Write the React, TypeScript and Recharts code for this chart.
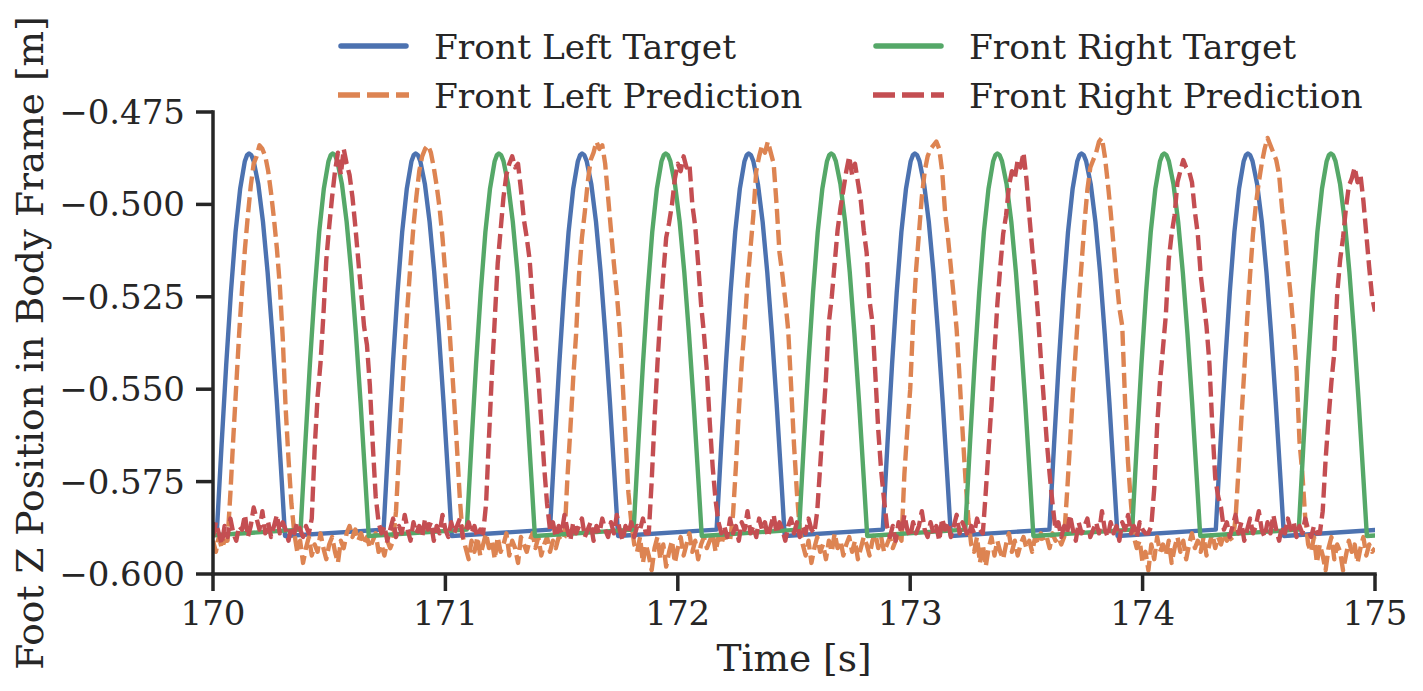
import React from 'react'
import { LineChart, Line, XAxis, YAxis } from 'recharts'

const WIDTH = 1423
const HEIGHT = 691
const FONT = '"DejaVu Serif", serif'
const INK = '#262626'

const xTicks = [170, 171, 172, 173, 174, 175]
const yTicks = [-0.6, -0.575, -0.55, -0.525, -0.5, -0.475]

// target trajectories: [time s, z m], one swing per line
const flTarget: [number, number][] = [
  [170.0, -0.5881],
  [170.017, -0.588], [170.037, -0.565], [170.057, -0.5432], [170.077, -0.5238], [170.097, -0.5075], [170.117, -0.4957], [170.137, -0.4883], [170.147, -0.4866], [170.155, -0.4862], [170.165, -0.4867], [170.175, -0.4883], [170.195, -0.4946], [170.215, -0.5047], [170.235, -0.5184], [170.255, -0.535], [170.275, -0.5536], [170.295, -0.574], [170.31, -0.5897],
  [170.734, -0.588], [170.754, -0.565], [170.774, -0.5432], [170.794, -0.5238], [170.814, -0.5075], [170.834, -0.4957], [170.854, -0.4883], [170.864, -0.4866], [170.872, -0.4862], [170.882, -0.4867], [170.892, -0.4883], [170.912, -0.4946], [170.932, -0.5047], [170.952, -0.5184], [170.972, -0.535], [170.992, -0.5536], [171.012, -0.574], [171.027, -0.5897],
  [171.45, -0.588], [171.47, -0.565], [171.49, -0.5432], [171.51, -0.5238], [171.53, -0.5075], [171.55, -0.4957], [171.57, -0.4883], [171.58, -0.4866], [171.588, -0.4862], [171.598, -0.4867], [171.608, -0.4883], [171.628, -0.4946], [171.648, -0.5047], [171.668, -0.5184], [171.688, -0.535], [171.708, -0.5536], [171.728, -0.574], [171.743, -0.5897],
  [172.167, -0.588], [172.187, -0.565], [172.207, -0.5432], [172.227, -0.5238], [172.247, -0.5075], [172.267, -0.4957], [172.287, -0.4883], [172.297, -0.4866], [172.305, -0.4862], [172.315, -0.4867], [172.325, -0.4883], [172.345, -0.4946], [172.365, -0.5047], [172.385, -0.5184], [172.405, -0.535], [172.425, -0.5536], [172.445, -0.574], [172.46, -0.5897],
  [172.882, -0.588], [172.902, -0.565], [172.922, -0.5432], [172.942, -0.5238], [172.962, -0.5075], [172.982, -0.4957], [173.002, -0.4883], [173.012, -0.4866], [173.02, -0.4862], [173.03, -0.4867], [173.04, -0.4883], [173.06, -0.4946], [173.08, -0.5047], [173.1, -0.5184], [173.12, -0.535], [173.14, -0.5536], [173.16, -0.574], [173.175, -0.5897],
  [173.599, -0.588], [173.619, -0.565], [173.639, -0.5432], [173.659, -0.5238], [173.679, -0.5075], [173.699, -0.4957], [173.719, -0.4883], [173.729, -0.4866], [173.737, -0.4862], [173.747, -0.4867], [173.757, -0.4883], [173.777, -0.4946], [173.797, -0.5047], [173.817, -0.5184], [173.837, -0.535], [173.857, -0.5536], [173.877, -0.574], [173.892, -0.5897],
  [174.315, -0.588], [174.335, -0.565], [174.355, -0.5432], [174.375, -0.5238], [174.395, -0.5075], [174.415, -0.4957], [174.435, -0.4883], [174.445, -0.4866], [174.453, -0.4862], [174.463, -0.4867], [174.473, -0.4883], [174.493, -0.4946], [174.513, -0.5047], [174.533, -0.5184], [174.553, -0.535], [174.573, -0.5536], [174.593, -0.574], [174.608, -0.5897],
  [175.0, -0.5881],
]

const frTarget: [number, number][] = [
  [170.0, -0.5895],
  [170.377, -0.588], [170.397, -0.565], [170.417, -0.5432], [170.437, -0.5238], [170.457, -0.5075], [170.477, -0.4957], [170.497, -0.4883], [170.507, -0.4866], [170.515, -0.4862], [170.525, -0.4867], [170.535, -0.4883], [170.555, -0.4946], [170.575, -0.5047], [170.595, -0.5184], [170.615, -0.535], [170.635, -0.5536], [170.655, -0.574], [170.67, -0.5897],
  [171.092, -0.588], [171.112, -0.565], [171.132, -0.5432], [171.152, -0.5238], [171.172, -0.5075], [171.192, -0.4957], [171.212, -0.4883], [171.222, -0.4866], [171.23, -0.4862], [171.24, -0.4867], [171.25, -0.4883], [171.27, -0.4946], [171.29, -0.5047], [171.31, -0.5184], [171.33, -0.535], [171.35, -0.5536], [171.37, -0.574], [171.385, -0.5897],
  [171.81, -0.588], [171.83, -0.565], [171.85, -0.5432], [171.87, -0.5238], [171.89, -0.5075], [171.91, -0.4957], [171.93, -0.4883], [171.94, -0.4866], [171.948, -0.4862], [171.958, -0.4867], [171.968, -0.4883], [171.988, -0.4946], [172.008, -0.5047], [172.028, -0.5184], [172.048, -0.535], [172.068, -0.5536], [172.088, -0.574], [172.103, -0.5897],
  [172.522, -0.588], [172.542, -0.565], [172.562, -0.5432], [172.582, -0.5238], [172.602, -0.5075], [172.622, -0.4957], [172.642, -0.4883], [172.652, -0.4866], [172.66, -0.4862], [172.67, -0.4867], [172.68, -0.4883], [172.7, -0.4946], [172.72, -0.5047], [172.74, -0.5184], [172.76, -0.535], [172.78, -0.5536], [172.8, -0.574], [172.815, -0.5897],
  [173.237, -0.588], [173.257, -0.565], [173.277, -0.5432], [173.297, -0.5238], [173.317, -0.5075], [173.337, -0.4957], [173.357, -0.4883], [173.367, -0.4866], [173.375, -0.4862], [173.385, -0.4867], [173.395, -0.4883], [173.415, -0.4946], [173.435, -0.5047], [173.455, -0.5184], [173.475, -0.535], [173.495, -0.5536], [173.515, -0.574], [173.53, -0.5897],
  [173.955, -0.588], [173.975, -0.565], [173.995, -0.5432], [174.015, -0.5238], [174.035, -0.5075], [174.055, -0.4957], [174.075, -0.4883], [174.085, -0.4866], [174.093, -0.4862], [174.103, -0.4867], [174.113, -0.4883], [174.133, -0.4946], [174.153, -0.5047], [174.173, -0.5184], [174.193, -0.535], [174.213, -0.5536], [174.233, -0.574], [174.248, -0.5897],
  [174.672, -0.588], [174.692, -0.565], [174.712, -0.5432], [174.732, -0.5238], [174.752, -0.5075], [174.772, -0.4957], [174.792, -0.4883], [174.802, -0.4866], [174.81, -0.4862], [174.82, -0.4867], [174.83, -0.4883], [174.85, -0.4946], [174.87, -0.5047], [174.89, -0.5184], [174.91, -0.535], [174.93, -0.5536], [174.95, -0.574], [174.965, -0.5897],
  [175.0, -0.5896],
]

// network predictions in mm, sampled every 12.5 ms from 170 s
const PRED_T0 = 170
const PRED_DT = 0.0125

const flPredMm = [
  -591, -594, -590, -593, -591,
  -591, -578, -563, -549, -535, -523, -512, -503, -495, -489, -487, -484, -485, -487, -491, -497, -504, -512, -522, -536, -555, -569, -581, -589,
  -594, -591, -597, -593, -590, -595, -592, -594, -589, -593, -596, -592, -590, -594, -597, -591, -593, -589, -587, -590, -588, -591, -589, -592, -590, -593, -591, -589, -594, -592, -595, -591, -593,
  -591, -583, -568, -554, -540, -527, -516, -506, -498, -491, -487, -485, -484, -486, -490, -495, -501, -509, -519, -529, -541, -553, -566, -580, -590,
  -593, -596, -591, -594, -590, -595, -592, -589, -593, -591, -596, -590, -594, -592, -589, -595, -591, -593, -597, -590, -592, -594, -591, -589, -593, -590, -595, -592, -590, -594, -591, -593, -590,
  -591, -590, -574, -561, -547, -535, -519, -509, -502, -494, -488, -486, -483, -485, -484, -489, -498, -507, -516, -524, -534, -548, -563, -578, -586, -592,
  -594, -590, -597, -592, -595, -599, -593, -590, -596, -592, -598, -594, -591, -597, -593, -590, -595, -592, -589, -594, -591, -596, -592, -590, -593, -591, -589, -594, -590, -592, -589, -591,
  -591, -584, -571, -556, -543, -533, -521, -512, -503, -491, -487, -484, -486, -483, -486, -489, -500, -513, -519, -526, -534, -549, -565, -578, -588, -592,
  -595, -591, -597, -593, -590, -594, -592, -596, -591, -594, -589, -593, -591, -595, -592, -590, -594, -591, -596, -593, -590, -592, -595, -591, -589, -593, -590, -594, -592, -590, -593, -591, -589,
  -591, -573, -561, -550, -532, -518, -508, -498, -491, -487, -485, -484, -483, -485, -491, -502, -509, -517, -525, -534, -547, -561, -574, -585, -592,
  -594, -590, -597, -592, -598, -593, -590, -595, -591, -594, -596, -592, -589, -594, -591, -595, -592, -590, -593, -591, -594, -590, -592, -589, -591, -590, -593, -589, -591, -590, -592,
  -590, -578, -565, -551, -539, -527, -516, -505, -496, -490, -488, -486, -483, -482, -487, -494, -502, -511, -520, -528, -533, -554, -570, -581, -590, -593,
  -591, -597, -594, -599, -592, -596, -590, -594, -592, -595, -591, -597, -593, -590, -594, -591, -596, -592, -589, -593, -591, -594, -590, -595, -592, -589, -593, -590, -592, -589, -591, -590,
  -591, -585, -572, -558, -545, -531, -519, -508, -500, -494, -489, -485, -482, -484, -486, -488, -492, -501, -508, -517, -525, -534, -545, -564, -573, -585, -592,
  -594, -590, -597, -592, -595, -599, -593, -590, -596, -592, -594, -599, -595, -591, -594, -592, -597, -593, -590, -595, -592, -594, -593,
]

const frPredMm = [
  -590, -586, -589, -592, -587, -590, -585, -589, -591, -587, -588, -584, -590, -587, -582, -585, -588, -583, -589, -586, -590, -587, -584, -589, -586, -588, -591, -587, -589, -586, -588, -590, -587,
  -589, -585, -566, -552, -543, -530, -515, -506, -498, -491, -486, -492, -485, -489, -492, -498, -506, -515, -524, -533, -538, -549, -565, -579, -586, -589,
  -587, -591, -588, -585, -590, -587, -589, -584, -588, -591, -586, -589, -587, -590, -585, -588, -586, -591, -587, -589, -584, -588, -590, -586, -589, -587, -585, -590, -588, -586, -589, -587, -590, -588,
  -589, -581, -563, -546, -531, -516, -507, -498, -492, -489, -487, -490, -489, -496, -504, -509, -515, -526, -537, -547, -559, -571, -581, -588,
  -586, -590, -587, -589, -584, -588, -591, -586, -589, -587, -585, -590, -588, -586, -591, -587, -589, -585, -588, -590, -586, -589, -584, -588, -591, -587, -589, -586, -590, -587, -588, -585, -589,
  -589, -575, -558, -543, -530, -519, -509, -505, -500, -493, -489, -491, -487, -490, -489, -500, -506, -516, -527, -535, -545, -559, -571, -580, -586, -589,
  -587, -590, -585, -589, -587, -591, -586, -588, -583, -589, -587, -590, -585, -588, -586, -590, -587, -584, -589, -586, -588, -591, -587, -585, -589, -586, -590, -587, -589, -585, -588,
  -589, -583, -571, -559, -547, -532, -525, -516, -507, -501, -496, -491, -487, -492, -489, -494, -499, -507, -513, -526, -532, -546, -561, -572, -580, -587,
  -590, -587, -591, -586, -589, -584, -588, -590, -586, -589, -587, -583, -588, -590, -586, -589, -587, -591, -585, -588, -586, -590, -587, -584, -589, -586, -588, -590, -587, -589, -585, -588,
  -589, -578, -566, -554, -540, -527, -517, -508, -503, -495, -491, -493, -488, -490, -486, -493, -503, -512, -520, -530, -542, -553, -564, -573, -581, -588,
  -586, -590, -587, -589, -584, -588, -591, -586, -589, -587, -585, -590, -588, -586, -589, -583, -588, -590, -586, -589, -587, -591, -586, -588, -584, -589, -587, -590, -586, -588, -589,
  -589, -587, -577, -560, -548, -539, -530, -515, -508, -503, -494, -491, -488, -490, -491, -494, -502, -508, -519, -526, -533, -543, -560, -574, -579, -582, -588,
  -586, -590, -587, -584, -589, -586, -591, -588, -585, -589, -587, -583, -588, -590, -586, -589, -584, -588, -591, -587, -589, -585, -588, -586, -590, -587, -589, -585, -588, -590, -587, -589,
  -589, -583, -569, -558, -548, -540, -524, -515, -509, -501, -495, -493, -490, -494, -492, -499, -508, -517, -525, -529,
]

const COLORS = {
  flTarget: '#4C72B0',
  flPred: '#DD8452',
  frTarget: '#55A868',
  frPred: '#C44E52',
}

const legendItems = [
  { label: 'Front Left Target', color: COLORS.flTarget, dashed: false, col: 0, row: 0 },
  { label: 'Front Left Prediction', color: COLORS.flPred, dashed: true, col: 0, row: 1 },
  { label: 'Front Right Target', color: COLORS.frTarget, dashed: false, col: 1, row: 0 },
  { label: 'Front Right Prediction', color: COLORS.frPred, dashed: true, col: 1, row: 1 },
]

const pairsToPoints = (pairs: [number, number][]) => pairs.map(([t, v]) => ({ t, v }))
const mmToPoints = (mm: number[]) =>
  mm.map((v, i) => ({ t: PRED_T0 + i * PRED_DT, v: v / 1000 }))

const flTargetData = pairsToPoints(flTarget)
const frTargetData = pairsToPoints(frTarget)
const flPredData = mmToPoints(flPredMm)
const frPredData = mmToPoints(frPredMm)

const formatY = (v: number) => v.toFixed(3).replace('-', '\u2212')

const LINE_W = 4.4
const DASH = '15 6'

function LegendBox() {
  const colX = [338, 873]
  const rowY = [46, 95]
  return (
    <svg
      width={WIDTH}
      height={130}
      style={{ position: 'absolute', left: 0, top: 0, pointerEvents: 'none' }}
    >
      {legendItems.map((item) => {
        const x = colX[item.col]
        const y = rowY[item.row]
        return (
          <g key={item.label}>
            {item.dashed ? (
              <line x1={x} x2={x + 71} y1={y} y2={y} stroke={item.color} strokeWidth={5.5} strokeDasharray="22 7" />
            ) : (
              <line x1={x + 3} x2={x + 68} y1={y} y2={y} stroke={item.color} strokeWidth={5.5} strokeLinecap="round" />
            )}
            <text x={x + 96} y={y + 13} fill={INK} fontSize={34.4} fontFamily={FONT}>
              {item.label}
            </text>
          </g>
        )
      })}
    </svg>
  )
}

export default function App() {
  const tickStyle = { fill: INK, fontSize: 34, fontFamily: FONT }
  const axisLine = { stroke: INK, strokeWidth: 3.5, strokeLinecap: 'square' as const }
  const tickLine = { stroke: INK, strokeWidth: 3.5 }

  return (
    <div style={{ position: 'absolute', left: 0, top: 0, width: WIDTH, height: HEIGHT, background: '#fff' }}>
      <LineChart width={WIDTH} height={HEIGHT} margin={{ top: 112, right: 48, bottom: 0, left: 0 }}>
        <XAxis
          type="number"
          dataKey="t"
          domain={[170, 175]}
          ticks={xTicks}
          interval={0}
          allowDataOverflow
          height={117}
          tickSize={17}
          tickMargin={10}
          tick={tickStyle}
          axisLine={axisLine}
          tickLine={tickLine}
          label={{ value: 'Time [s]', position: 'insideBottom', offset: 20, fill: INK, fontSize: 37.5, fontFamily: FONT }}
        />
        <YAxis
          type="number"
          domain={[-0.6, -0.475]}
          ticks={yTicks}
          interval={0}
          allowDataOverflow
          width={213}
          tickSize={17}
          tickMargin={11}
          tick={tickStyle}
          tickFormatter={formatY}
          axisLine={axisLine}
          tickLine={tickLine}
          label={{
            value: 'Foot Z Position in Body Frame [m]',
            angle: -90,
            position: 'insideLeft',
            offset: 30,
            fill: INK,
            fontSize: 37.5,
            fontFamily: FONT,
            style: { textAnchor: 'middle' },
          }}
        />
        <Line
          data={flTargetData}
          dataKey="v"
          type="linear"
          stroke={COLORS.flTarget}
          strokeWidth={LINE_W}
          strokeLinecap="round"
          strokeLinejoin="round"
          dot={false}
          activeDot={false}
          isAnimationActive={false}
        />
        <Line
          data={flPredData}
          dataKey="v"
          type="linear"
          stroke={COLORS.flPred}
          strokeWidth={LINE_W}
          strokeDasharray={DASH}
          strokeLinejoin="round"
          dot={false}
          activeDot={false}
          isAnimationActive={false}
        />
        <Line
          data={frTargetData}
          dataKey="v"
          type="linear"
          stroke={COLORS.frTarget}
          strokeWidth={LINE_W}
          strokeLinecap="round"
          strokeLinejoin="round"
          dot={false}
          activeDot={false}
          isAnimationActive={false}
        />
        <Line
          data={frPredData}
          dataKey="v"
          type="linear"
          stroke={COLORS.frPred}
          strokeWidth={LINE_W}
          strokeDasharray={DASH}
          strokeLinejoin="round"
          dot={false}
          activeDot={false}
          isAnimationActive={false}
        />
      </LineChart>
      <LegendBox />
    </div>
  )
}
